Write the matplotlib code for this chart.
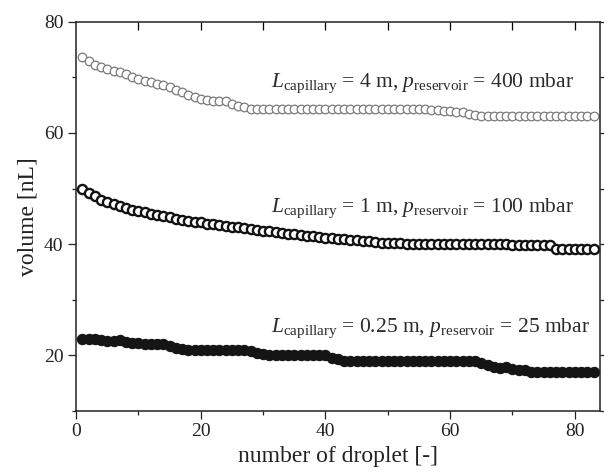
import numpy as np
import matplotlib
matplotlib.use("Agg")
import matplotlib.pyplot as plt
from matplotlib.ticker import MultipleLocator

# Fonts: Times-like serif everywhere, mathtext for the italic symbols + subscripts
plt.rcParams['font.family'] = ['Liberation Serif', 'DejaVu Serif']
plt.rcParams['mathtext.fontset'] = 'custom'
plt.rcParams['mathtext.rm'] = 'Liberation Serif'
plt.rcParams['mathtext.it'] = 'Liberation Serif:italic'

# Droplet index
droplet = np.arange(1, 84)

# L = 4 m, p = 400 mbar (open grey circles)
vol_4m = [73.6, 72.9, 72.3, 71.8, 71.5, 71.2, 70.9, 70.6, 70.1, 69.7,
          69.4, 69.2, 68.9, 68.6, 68.3, 67.7, 67.3, 66.8, 66.5, 66.2,
          65.9, 65.8, 65.8, 65.7, 65.2, 64.9, 64.6, 64.4, 64.4, 64.4,
          64.4, 64.4, 64.4, 64.4, 64.4, 64.4, 64.4, 64.4, 64.4, 64.4,
          64.4, 64.4, 64.4, 64.4, 64.4, 64.4, 64.4, 64.4, 64.4, 64.4,
          64.4, 64.4, 64.4, 64.4, 64.4, 64.3, 64.2, 64.1, 64.0, 63.9,
          63.8, 63.7, 63.5, 63.3, 63.1, 63.0, 63.0, 63.0, 63.0, 63.0,
          63.0, 63.0, 63.0, 63.0, 63.0, 63.0, 63.0, 63.0, 63.0, 63.0,
          63.0, 63.0, 63.0]

# L = 1 m, p = 100 mbar (open black circles)
vol_1m = [49.9, 49.2, 48.6, 48.0, 47.6, 47.2, 46.8, 46.5, 46.2, 46.0,
          45.7, 45.5, 45.2, 45.0, 44.8, 44.6, 44.4, 44.2, 44.0, 43.9,
          43.7, 43.6, 43.4, 43.3, 43.1, 43.0, 42.9, 42.7, 42.6, 42.4,
          42.3, 42.2, 42.0, 41.9, 41.8, 41.6, 41.5, 41.4, 41.3, 41.2,
          41.1, 41.0, 40.9, 40.8, 40.7, 40.6, 40.5, 40.4, 40.3, 40.3,
          40.2, 40.2, 40.1, 40.0, 40.0, 40.0, 40.0, 40.0, 40.0, 40.0,
          40.0, 40.0, 40.0, 40.0, 40.0, 40.0, 40.0, 40.0, 40.0, 39.9,
          39.9, 39.9, 39.9, 39.9, 39.9, 39.9, 39.2, 39.2, 39.2, 39.2,
          39.2, 39.2, 39.2]

# L = 0.25 m, p = 25 mbar (filled black circles)
vol_025m = [23.0, 23.0, 22.9, 22.8, 22.6, 22.5, 22.7, 22.4, 22.3, 22.2,
            22.1, 22.1, 22.1, 22.0, 21.7, 21.4, 21.2, 21.0, 21.0, 21.0,
            21.0, 21.0, 21.0, 21.0, 21.0, 21.0, 21.0, 20.8, 20.5, 20.2,
            20.0, 20.0, 20.0, 20.0, 20.0, 20.0, 20.0, 20.0, 20.0, 20.0,
            19.6, 19.3, 19.0, 19.0, 19.0, 19.0, 19.0, 19.0, 19.0, 19.0,
            19.0, 19.0, 19.0, 19.0, 19.0, 19.0, 19.0, 19.0, 19.0, 19.0,
            19.0, 19.0, 19.0, 19.0, 18.6, 18.2, 17.9, 17.7, 17.9, 17.5,
            17.3, 17.4, 17.0, 17.0, 17.0, 17.0, 17.0, 17.0, 17.0, 17.0,
            17.0, 17.0, 17.0]

labels = [r'$L_{\rm capillary}$ = 4 m, $p_{\rm reservoir}$ = 400 mbar',
          r'$L_{\rm capillary}$ = 1 m, $p_{\rm reservoir}$ = 100 mbar',
          r'$L_{\rm capillary}$ = 0.25 m, $p_{\rm reservoir}$ = 25 mbar']
label_y = [68.3, 45.8, 24.2]

fig = plt.figure(figsize=(6.04, 4.74), dpi=100)
ax = fig.add_axes([0.126, 0.133, 0.867, 0.821])

ax.plot(droplet, vol_4m, 'o', ms=6.2, mfc='white', mec='#7a7a7a', mew=0.9)
ax.plot(droplet, vol_1m, 'o', ms=6.6, mfc='white', mec='#111111', mew=1.7)
ax.plot(droplet, vol_025m, 'o', ms=7.4, mfc='#151515', mec='#151515', mew=0.8)

for txt, y in zip(labels, label_y):
    ax.text(31.3, y, txt, fontsize=15.5, color='#2a2a2a', ha='left', va='baseline')

ax.set_xlim(0, 84)
ax.set_ylim(10, 80)
ax.xaxis.set_major_locator(MultipleLocator(20))
ax.xaxis.set_minor_locator(MultipleLocator(10))
ax.yaxis.set_major_locator(MultipleLocator(20))
ax.yaxis.set_minor_locator(MultipleLocator(10))

ax.tick_params(which='both', direction='out', width=0.9, labelsize=14,
               right=True, top=False, colors='#222222')
ax.tick_params(which='major', length=5.5)
ax.tick_params(which='minor', length=3)
ax.tick_params(axis='y', which='minor', left=True)

# top axis ticks point inward
top = ax.secondary_xaxis('top')
top.set_xticks(np.arange(10, 90, 10))
top.tick_params(direction='in', length=5.5, width=0.9, labeltop=False)
top.spines['top'].set_visible(False)

for s in ax.spines.values():
    s.set_linewidth(1.1)
    s.set_color('#222222')

ax.set_xlabel('number of droplet [-]', fontsize=17, color='#222222')
ax.set_ylabel('volume [nL]', fontsize=17, color='#222222')

fig.savefig('out.png', dpi=100)
